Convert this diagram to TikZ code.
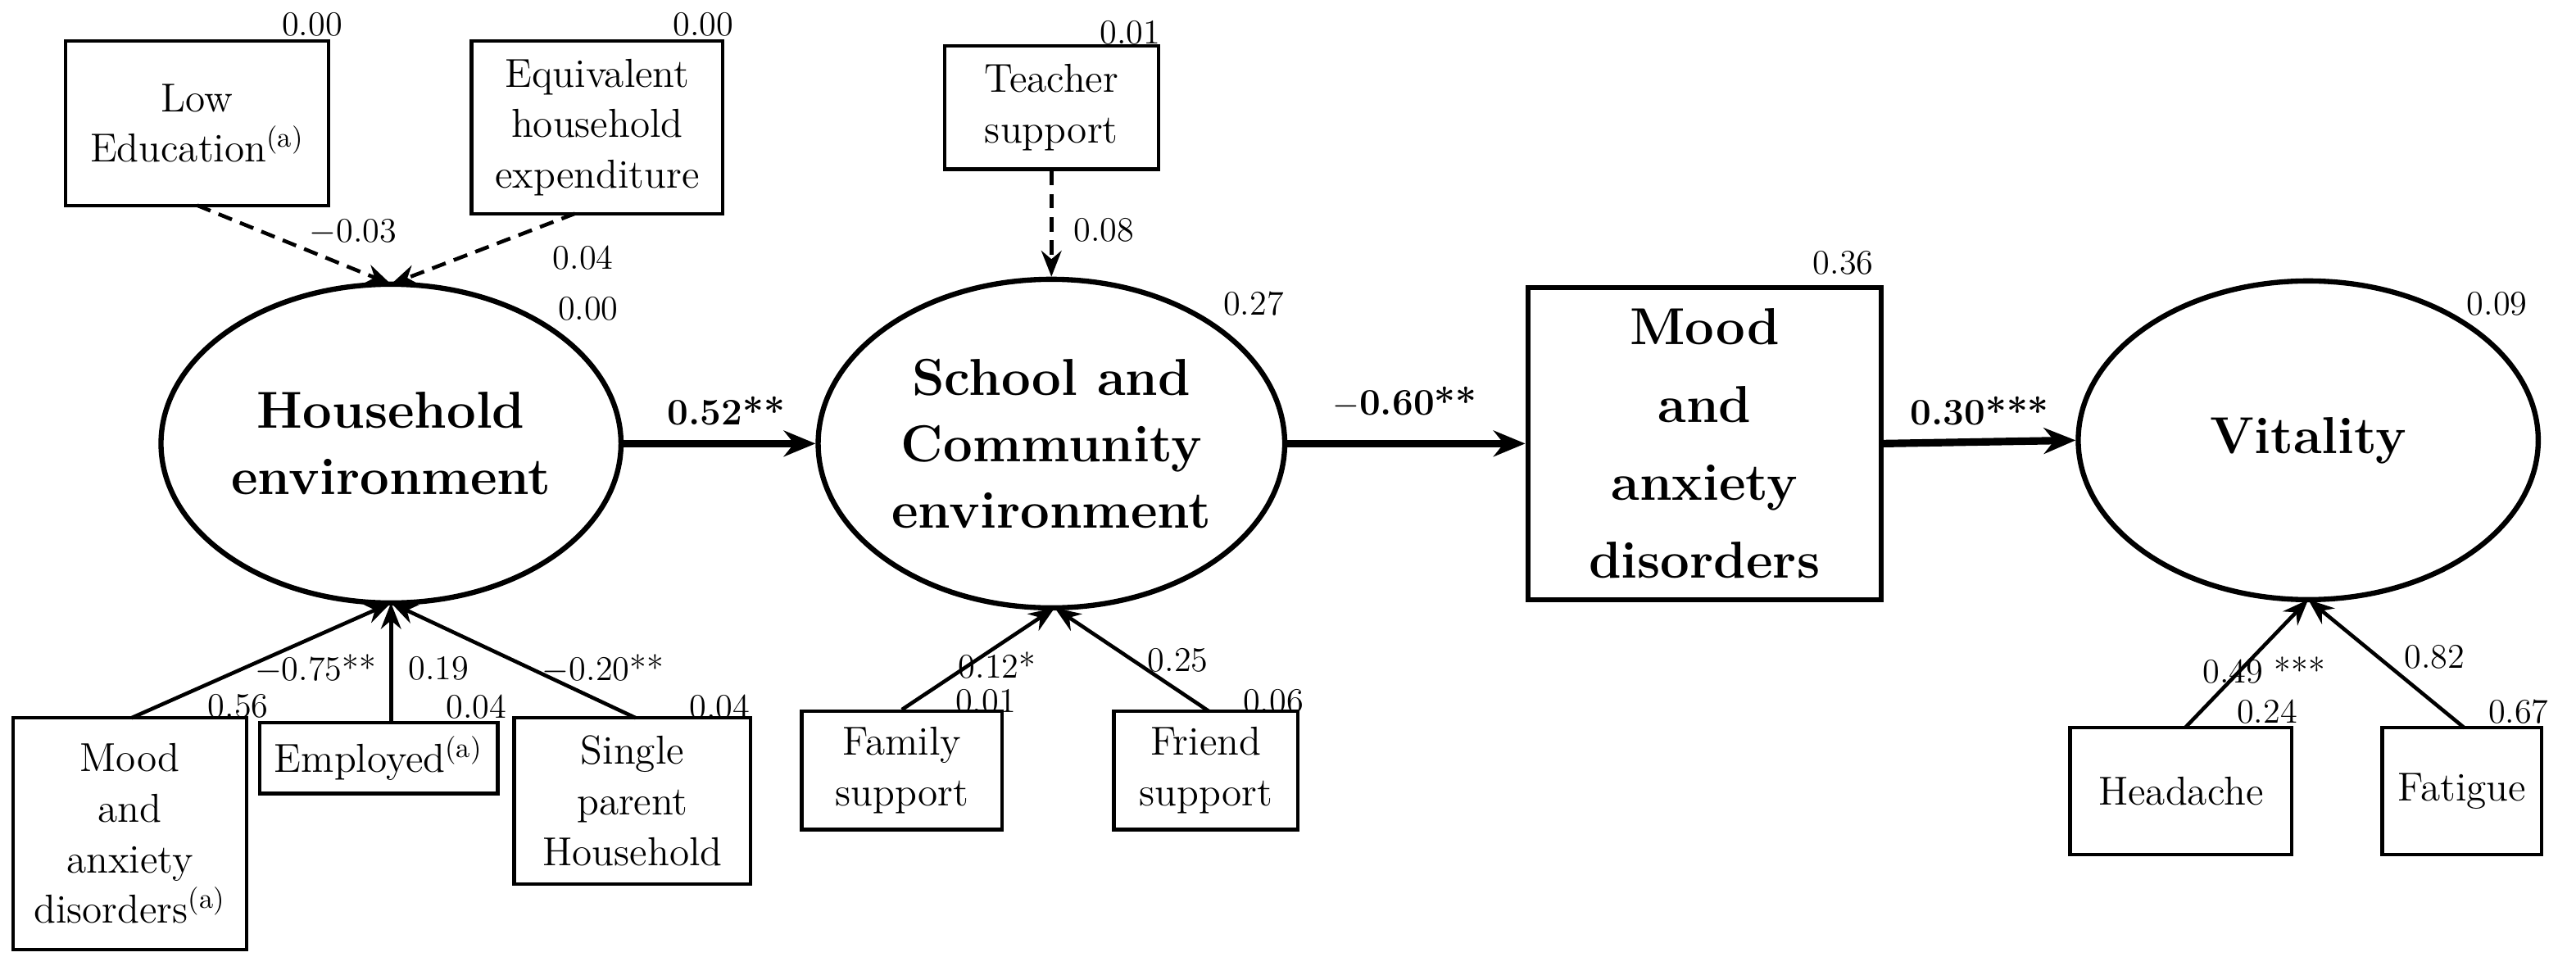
\documentclass[tikz,border=0pt]{standalone}
\usetikzlibrary{shapes.geometric,arrows.meta}
\begin{document}
\begin{tikzpicture}[x=0.02cm,y=-0.02cm,
 box/.style={draw,line width=1.2pt,align=center,font=\fontsize{14}{17.5}\selectfont,inner sep=0pt},
 ell/.style={draw,ellipse,line width=1.8pt,align=center,font=\fontsize{18}{23}\selectfont\bfseries,inner sep=0pt},
 lab/.style={font=\fontsize{12}{14}\selectfont,inner sep=1pt},
 arr/.style={line width=1.3pt,-{Stealth[length=9pt,width=7pt]}},
 darr/.style={arr,dash pattern=on 5pt off 3pt},
 tarr/.style={line width=2.6pt,-{Stealth[length=11pt,width=9pt]}}]
\useasboundingbox (0,0) rectangle (1568,588);
% top boxes
\node[box,minimum width=160*0.02cm,minimum height=100*0.02cm] (le) at (120,75) {Low\\Education\textsuperscript{(a)}};
\node[box,minimum width=153*0.02cm,minimum height=105*0.02cm] (eq) at (363.5,77.5) {Equivalent\\household\\expenditure};
\node[box,minimum width=130*0.02cm,minimum height=75*0.02cm] (ts) at (640,65.5) {Teacher\\support};
% ellipses
\node[ell,minimum width=280*0.02cm,minimum height=194*0.02cm] (he) at (238,270) {Household\\environment};
\node[ell,minimum width=284*0.02cm,minimum height=200*0.02cm] (sc) at (640,270) {School and\\Community\\environment};
\node[draw,line width=1.8pt,align=center,font=\fontsize{18}{27}\selectfont\bfseries,minimum width=215*0.02cm,minimum height=190*0.02cm] (ma) at (1037.5,270) {Mood\\and\\anxiety\\disorders};
\node[ell,minimum width=280*0.02cm,minimum height=194*0.02cm] (vi) at (1405,268) {Vitality};
% bottom boxes
\node[box,minimum width=142*0.02cm,minimum height=141*0.02cm] (mb) at (79,507.5) {Mood\\and\\anxiety\\disorders\textsuperscript{(a)}};
\node[box,minimum width=145*0.02cm,minimum height=43*0.02cm] (em) at (230.5,461.5) {Employed\textsuperscript{(a)}};
\node[box,minimum width=144*0.02cm,minimum height=101*0.02cm] (sp) at (385,487.5) {Single\\parent\\Household};
\node[box,minimum width=122*0.02cm,minimum height=72*0.02cm] (fs) at (549,469) {Family\\support};
\node[box,minimum width=112*0.02cm,minimum height=72*0.02cm] (fr) at (734,469) {Friend\\support};
\node[box,minimum width=135*0.02cm,minimum height=77*0.02cm] (hd) at (1327.5,481.5) {Headache};
\node[box,minimum width=97*0.02cm,minimum height=77*0.02cm] (fa) at (1498.5,481.5) {Fatigue};
% r2 labels
\node[lab] at (190,15) {0.00};
\node[lab] at (428,15) {0.00};
\node[lab] at (688,20) {0.01};
\node[lab] at (358,188) {0.00};
\node[lab] at (763,185) {0.27};
\node[lab] at (1122,160) {0.36};
\node[lab] at (1520,185) {0.09};
\node[lab] at (145,430) {0.56};
\node[lab] at (290,430) {0.04};
\node[lab] at (438,430) {0.04};
\node[lab] at (600,427) {0.01};
\node[lab] at (775,427) {0.06};
\node[lab] at (1380,433) {0.24};
\node[lab] at (1533,433) {0.67};
% coordinates
\coordinate (hb) at (238,367);
\coordinate (ht) at (238,173);
\coordinate (sb) at (642,370);
\coordinate (vb) at (1405,365);
\coordinate (emt) at (238,440);
% dashed
\draw[darr] (120,125) -- (ht);
\draw[darr] (350,130) -- (ht);
\draw[darr] (ts) -- (sc.north);
\node[lab] at (215,141) {$-$0.03};
\node[lab] at (355,157) {0.04};
\node[lab] at (672,140) {0.08};
% bottom arrows
\draw[arr] (80,437) -- (hb);
\draw[arr] (emt) -- (hb);
\draw[arr] (387,437) -- (hb);
\node[lab] at (192,407) {$-$0.75**};
\node[lab] at (267,407) {0.19};
\node[lab] at (367,407) {$-$0.20**};
\draw[arr] (fs.north) -- (sb);
\draw[arr] (736,433) -- (sb);
\node[lab] at (607,405) {0.12*};
\node[lab] at (717,402) {0.25};
\draw[arr] (1330,443) -- (vb);
\draw[arr] (1500,443) -- (vb);
\node[lab] at (1378,408) {0.49 ***};
\node[lab] at (1482,400) {0.82};
% main
\draw[tarr] (he.east) -- (sc.west);
\draw[tarr] (sc.east) -- (ma.west);
\draw[tarr] (ma.east) -- (vi.west);
\node[lab,font=\fontsize{13}{15}\selectfont\bfseries] at (442,250) {0.52**};
\node[lab,font=\fontsize{13}{15}\selectfont\bfseries] at (855,245) {$-$0.60**};
\node[lab,font=\fontsize{13}{15}\selectfont\bfseries] at (1205,250) {0.30***};
\end{tikzpicture}
\end{document}
